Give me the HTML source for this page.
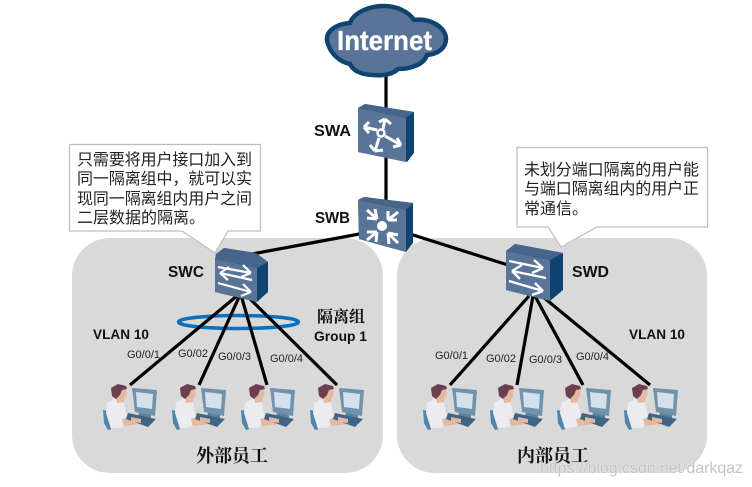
<!DOCTYPE html>
<html>
<head>
<meta charset="utf-8">
<style>
html,body{margin:0;padding:0;background:#fff;width:752px;height:487px;overflow:hidden}
svg{display:block}
.l{font-family:"Liberation Sans",sans-serif;font-weight:bold;fill:#111}
.p{font-family:"Liberation Sans",sans-serif;font-size:11px;fill:#222}
.c{font-family:"Liberation Sans","Noto Sans CJK SC",sans-serif;font-size:16px;fill:#222}
.s{font-family:"Liberation Serif","Noto Serif CJK SC",serif;font-weight:bold;fill:#111}
</style>
</head>
<body>
<svg width="752" height="487" viewBox="0 0 752 487" xmlns="http://www.w3.org/2000/svg">
<defs>
<g id="user">
  <path d="M0 25 L5 26 L13 43 L5 45 L1 38Z" fill="#4f86a8"/>
  <path d="M13 13 L4 18 L3 28 L8 44 L19 42 L24 33 L21 18Z" fill="#ebebf0"/>
  <path d="M19 34 L30 31 L41 35 L37 39 L21 41Z" fill="#e6b8a0"/>
  <ellipse cx="17" cy="8" rx="6.500" ry="7.500" fill="#e6b8a0"/>
  <path d="M13 12 L21 12 L21 17 L14 18Z" fill="#e6b8a0"/>
  <path d="M9 11 L8 3 L15 -1 L23 1 L24 4 L19 5 L17 10 L13 14Z" fill="#6b3f50"/>
  <path d="M37 25 L48 27 L48 33 L35 31Z" fill="#5f8099"/>
  <path d="M29 3 L54 5 L52 31 L32 27Z" fill="#6f93ad"/>
  <path d="M33 7 L50 9 L49 24 L34 22Z" fill="#d5e0ea"/>
  <path d="M25 28 L53 34 L45 42 L23 34Z" fill="#3f6486"/>
  <path d="M28 32 L38 34 L38 38 L28 37Z" fill="#e6b8a0"/>
</g>
</defs>

<rect x="72" y="238" width="311" height="235" rx="38" fill="#d9d9d9"/>
<rect x="397" y="238" width="310" height="235" rx="38" fill="#d9d9d9"/>

<!-- callouts -->
<path d="M69.500 144.500 H260.500 V231 H228 L215 253 L182 231 H69.500Z" fill="#fff" stroke="#bdbdbd" stroke-width="1.200"/>
<path d="M517 147.500 H707.500 V227 H597 L561 247 L548 227 H517Z" fill="#fff" stroke="#bdbdbd" stroke-width="1.200"/>
<g class="c">
<text x="77" y="165" textLength="175">只需要将用户接口加入到</text>
<text x="77" y="184" textLength="175">同一隔离组中，就可以实</text>
<text x="77" y="204" textLength="175">现同一隔离组内用户之间</text>
<text x="77" y="223">二层数据的隔离。</text>
<text x="524" y="175" textLength="175">未划分端口隔离的用户能</text>
<text x="524" y="194" textLength="175">与端口隔离组内的用户正</text>
<text x="524" y="214">常通信。</text>
</g>

<!-- ellipse -->
<ellipse cx="238.500" cy="322" rx="60" ry="6.500" fill="none" stroke="#0a6fbd" stroke-width="3.500"/>

<!-- links -->
<g stroke="#000" stroke-width="3.200" fill="none">
<path d="M386 75 V110 M386 155 V200"/>
<path d="M252 254 L362 233.500"/>
<path d="M410 234 L508 265"/>
<path d="M238 295 L130 385"/>
<path d="M240 295 L199 385"/>
<path d="M241 295 L267 385"/>
<path d="M243 292 L337 385"/>
<path d="M529 296 L450 385"/>
<path d="M533 296 L517 385"/>
<path d="M535 296 L583 385"/>
<path d="M537 292 L650 385"/>
</g>

<!-- cloud -->
<path d="M328 44 C323 32 336 24 350 23 C354 12 370 6 384 6 C396 6 408 11 414 20 C430 18 446 27 446 39 C446 48 438 54 427 55 C424 64 412 69 398 69 C393 74 384 76 374 75 C362 75 353 71 350 64 C340 62 331 54 328 44Z" fill="#5a7497" stroke="#0f4470" stroke-width="4.500"/>
<text x="337" y="50" class="l" font-size="28" textLength="95" lengthAdjust="spacingAndGlyphs" style="fill:#fff;stroke:#fff;stroke-width:.3">Internet</text>

<!-- SWA -->
<path d="M358 108 L365 104 L414 112 V153 L407 162 L358 152Z" fill="#0f4470"/>
<path d="M358 108 L406 118 V162 L358 152Z" fill="#5a7497"/>
<path d="M358 108 L365 104 L414 112 L406 118Z" fill="#46658a"/>
<circle cx="381" cy="133" r="3.500" fill="none" stroke="#fff" stroke-width="2.500"/>
<g stroke="#fff" stroke-width="3" fill="none">
<path d="M377 130 L364 127 M364 127 L369 122 M364 127 L369 133"/>
<path d="M383 129 L385 119 M385 119 L379 122 M385 119 L391 124"/>
<path d="M385 136 L401 145 M401 145 L397 138 M401 145 L393 147"/>
<path d="M379 138 L375 151 M375 151 L370 145 M375 151 L383 150"/>
</g>

<!-- SWB -->
<path d="M358 200 L364 197 L413 203 V243 L406 252 L359 239Z" fill="#0f4470"/>
<path d="M358 200 L406 210 V252 L359 239Z" fill="#5a7497"/>
<path d="M358 200 L364 197 L413 203 L406 210Z" fill="#46658a"/>
<circle cx="382" cy="226" r="5" fill="#fff"/>
<g stroke="#fff" stroke-width="3" fill="none">
<path d="M367 210 L377 219 M367 218 L377 219 M375 209 L377 219"/>
<path d="M398 212 L388 220 M397 220 L388 220 M388 211 L388 220"/>
<path d="M367 240 L377 232 M367 232 L377 232 M376 242 L377 232"/>
<path d="M398 243 L388 233 M398 235 L388 233 M389 244 L388 233"/>
</g>

<!-- SWC -->
<path d="M215 263 L216 254 L224 248 L256 253 L268 262 V292 L257 302 L215 292Z" fill="#0f4470"/>
<path d="M215 259 L257 268 V302 L215 292Z" fill="#5a7497"/>
<path d="M216 254 L224 248 L256 253 L268 262 L257 268 L215 259Z" fill="#46658a"/>
<g stroke="#fff" stroke-width="2.200" fill="none">
<path d="M218 267 L251 273 M251 273 L243 265 M251 273 L241 277"/>
<path d="M252 280 L220 273 M220 273 L229 267 M220 273 L228 280"/>
<path d="M218 283 L251 292 M251 292 L243 284 M251 292 L241 296"/>
</g>

<!-- SWD -->
<path d="M506 251 L515 244 L563 253 V290 L550 301 L506 290Z" fill="#0f4470"/>
<path d="M506 251 L550 260 V301 L506 290Z" fill="#5a7497"/>
<path d="M506 251 L515 244 L563 253 L550 260Z" fill="#46658a"/>
<g stroke="#fff" stroke-width="2.400" fill="none">
<path d="M509 261 L543 268 M543 268 L534 260 M543 268 L532 273"/>
<path d="M546 278 L512 271 M512 271 L522 265 M512 271 L520 279"/>
<path d="M509 281 L543 291 M543 291 L535 283 M543 291 L532 295"/>
</g>

<!-- users -->
<use href="#user" x="103" y="385"/>
<use href="#user" x="172" y="385"/>
<use href="#user" x="241" y="385"/>
<use href="#user" x="310" y="385"/>
<use href="#user" x="423" y="385"/>
<use href="#user" x="490" y="385"/>
<use href="#user" x="557" y="385"/>
<use href="#user" x="624" y="385"/>

<!-- labels -->
<g class="l" font-size="16">
<text x="314" y="136" textLength="37" lengthAdjust="spacingAndGlyphs">SWA</text>
<text x="315" y="223" textLength="35" lengthAdjust="spacingAndGlyphs">SWB</text>
<text x="168" y="277" textLength="36" lengthAdjust="spacingAndGlyphs">SWC</text>
<text x="572" y="277" textLength="37" lengthAdjust="spacingAndGlyphs">SWD</text>
</g>
<g class="l" font-size="14">
<text x="93" y="339" textLength="56" lengthAdjust="spacingAndGlyphs">VLAN 10</text>
<text x="629" y="339" textLength="56" lengthAdjust="spacingAndGlyphs">VLAN 10</text>
<text x="314" y="341" textLength="53" lengthAdjust="spacingAndGlyphs">Group 1</text>
</g>
<g class="p">
<text x="127" y="358">G0/0/1</text>
<text x="178" y="357">G0/02</text>
<text x="218" y="360">G0/0/3</text>
<text x="270" y="362">G0/0/4</text>
<text x="435" y="359">G0/0/1</text>
<text x="486" y="362">G0/02</text>
<text x="529" y="363">G0/0/3</text>
<text x="576" y="360">G0/0/4</text>
</g>
<text x="317" y="322" class="s" font-size="16">隔离组</text>
<text x="196" y="462" class="s" font-size="18">外部员工</text>
<text x="517" y="462" class="s" font-size="18">内部员工</text>
<text x="540" y="473" font-family="Liberation Sans, sans-serif" font-size="16" textLength="203" fill="#c4c4c4" stroke="#fff" stroke-opacity=".5" stroke-width="1" paint-order="stroke">https://blog.csdn.net/darkqaz</text>
</svg>
</body>
</html>
